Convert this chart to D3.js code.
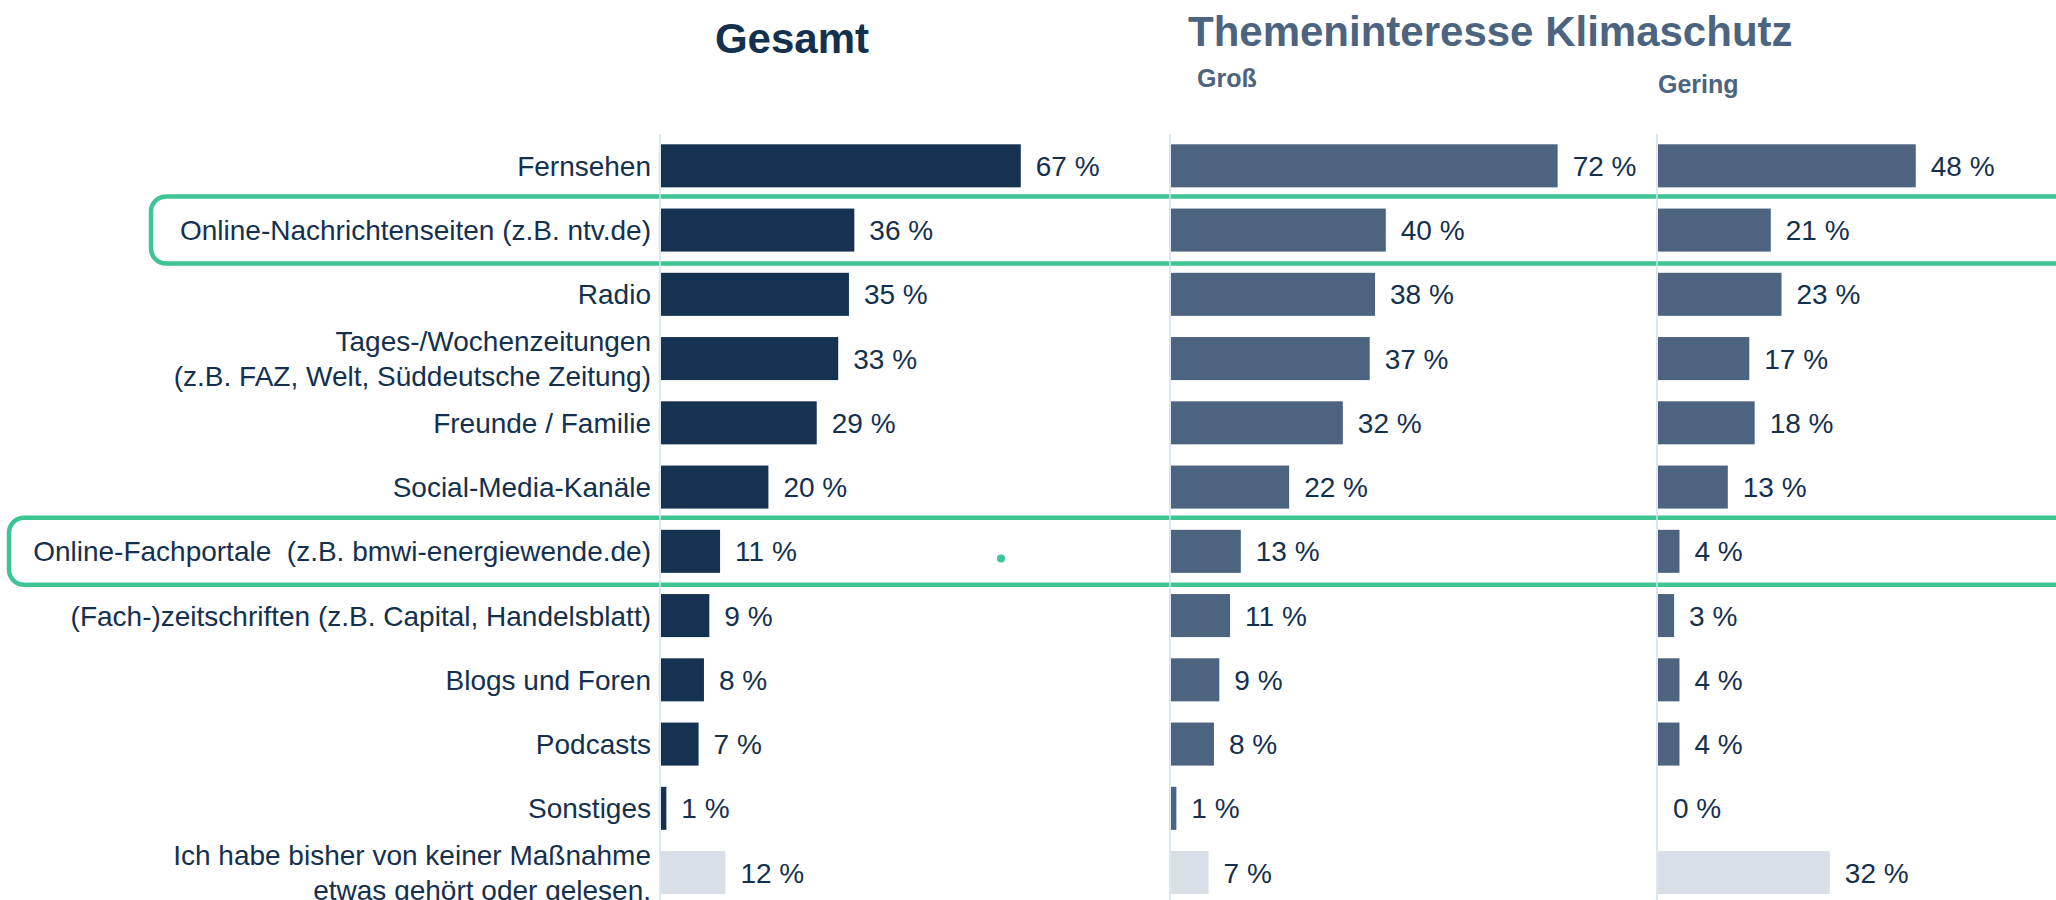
<!DOCTYPE html>
<html>
<head>
<meta charset="utf-8">
<script src="https://cdn.jsdelivr.net/npm/d3@7"></script>
<style>
  body { margin: 0; background: #fff; }
  svg { display: block; font-family: "Liberation Sans", Arial, sans-serif; }
</style>
</head>
<body>
<svg width="2056" height="900"></svg>
<script>
// categories (multi-line labels split with "|")
var categories = [
  "Fernsehen",
  "Online-Nachrichtenseiten (z.B. ntv.de)",
  "Radio",
  "Tages-/Wochenzeitungen|(z.B. FAZ, Welt, Süddeutsche Zeitung)",
  "Freunde / Familie",
  "Social-Media-Kanäle",
  "Online-Fachportale  (z.B. bmwi-energiewende.de)",
  "(Fach-)zeitschriften (z.B. Capital, Handelsblatt)",
  "Blogs und Foren",
  "Podcasts",
  "Sonstiges",
  "Ich habe bisher von keiner Maßnahme|etwas gehört oder gelesen."
];

var gesamt = [67, 36, 35, 33, 29, 20, 11, 9, 8, 7, 1, 12];
var gross  = [72, 40, 38, 37, 32, 22, 13, 11, 9, 8, 1, 7];
var gering = [48, 21, 23, 17, 18, 13, 4, 3, 4, 4, 0, 32];

var highlighted = [1, 6];

var svg = d3.select("svg");

var y = d3.scaleBand()
  .domain(d3.range(categories.length))
  .range([133.7, 904.7])
  .paddingInner(0.33)
  .paddingOuter(0.165);

var x = d3.scaleLinear().domain([0, 100]).range([0, 537]);

var panels = [
  {values: gesamt, x0: 660, color: "#153250"},
  {values: gross,  x0: 1170, color: "#4d6480"},
  {values: gering, x0: 1657, color: "#4d6480"}
];

// green highlight boxes
var boxLeft = [151, 9];
highlighted.forEach(function(i, k) {
  svg.append("rect")
    .attr("x", boxLeft[k])
    .attr("y", y(i) - 12)
    .attr("width", 2120 - boxLeft[k])
    .attr("height", y.bandwidth() + 24)
    .attr("rx", 15)
    .attr("fill", "none")
    .attr("stroke", "#3dc593")
    .attr("stroke-width", 4.5);
});

svg.append("circle")
  .attr("cx", 1001).attr("cy", 558.5).attr("r", 4)
  .attr("fill", "#3dc593");

panels.forEach(function(p) {
  var g = svg.append("g").attr("transform", "translate(" + p.x0 + ",0)");

  g.append("line")
    .attr("x1", 0).attr("x2", 0)
    .attr("y1", 134).attr("y2", 900)
    .attr("stroke", "#cfe0f0")
    .attr("stroke-width", 1.5);

  g.selectAll("rect.bar")
    .data(p.values)
    .enter()
    .append("rect")
    .attr("class", "bar")
    .attr("x", 1)
    .attr("y", function(d, i) { return y(i); })
    .attr("width", function(d) { return x(d); })
    .attr("height", y.bandwidth())
    .attr("fill", function(d, i) { return i == categories.length - 1 ? "#d8dfe7" : p.color; });

  g.selectAll("text.val")
    .data(p.values)
    .enter()
    .append("text")
    .attr("class", "val")
    .attr("x", function(d) { return x(d) + 16; })
    .attr("y", function(d, i) { return y(i) + y.bandwidth() / 2; })
    .attr("dy", "0.36em")
    .attr("font-size", 28)
    .attr("fill", "#14304f")
    .text(function(d) { return d + " %"; });
});

// category labels
var lab = svg.append("g")
  .selectAll("text")
  .data(categories)
  .enter()
  .append("text")
  .attr("text-anchor", "end")
  .attr("font-size", 28)
  .attr("fill", "#14304f")
  .attr("y", function(d, i) { return y(i) + y.bandwidth() / 2; });

lab.each(function(d) {
  var lines = d.split("|");
  var t = d3.select(this);
  lines.forEach(function(l, j) {
    t.append("tspan")
      .attr("x", 651)
      .attr("dy", j == 0 ? (0.36 - (lines.length - 1) * 0.62) + "em" : "1.24em")
      .style("white-space", "pre")
      .text(l);
  });
});
lab.attr("xml:space", "preserve");

// titles
svg.append("text")
  .attr("x", 792).attr("y", 53)
  .attr("text-anchor", "middle")
  .attr("font-size", 42).attr("font-weight", "bold")
  .attr("fill", "#14304f")
  .text("Gesamt");

svg.append("text")
  .attr("x", 1188).attr("y", 46)
  .attr("font-size", 42).attr("font-weight", "bold")
  .attr("fill", "#4d6480")
  .text("Themeninteresse Klimaschutz");

svg.append("text")
  .attr("x", 1197).attr("y", 87)
  .attr("font-size", 25).attr("font-weight", "bold")
  .attr("fill", "#4d6480")
  .text("Groß");

svg.append("text")
  .attr("x", 1658).attr("y", 93)
  .attr("font-size", 25).attr("font-weight", "bold")
  .attr("fill", "#4d6480")
  .text("Gering");
</script>
</body>
</html>
